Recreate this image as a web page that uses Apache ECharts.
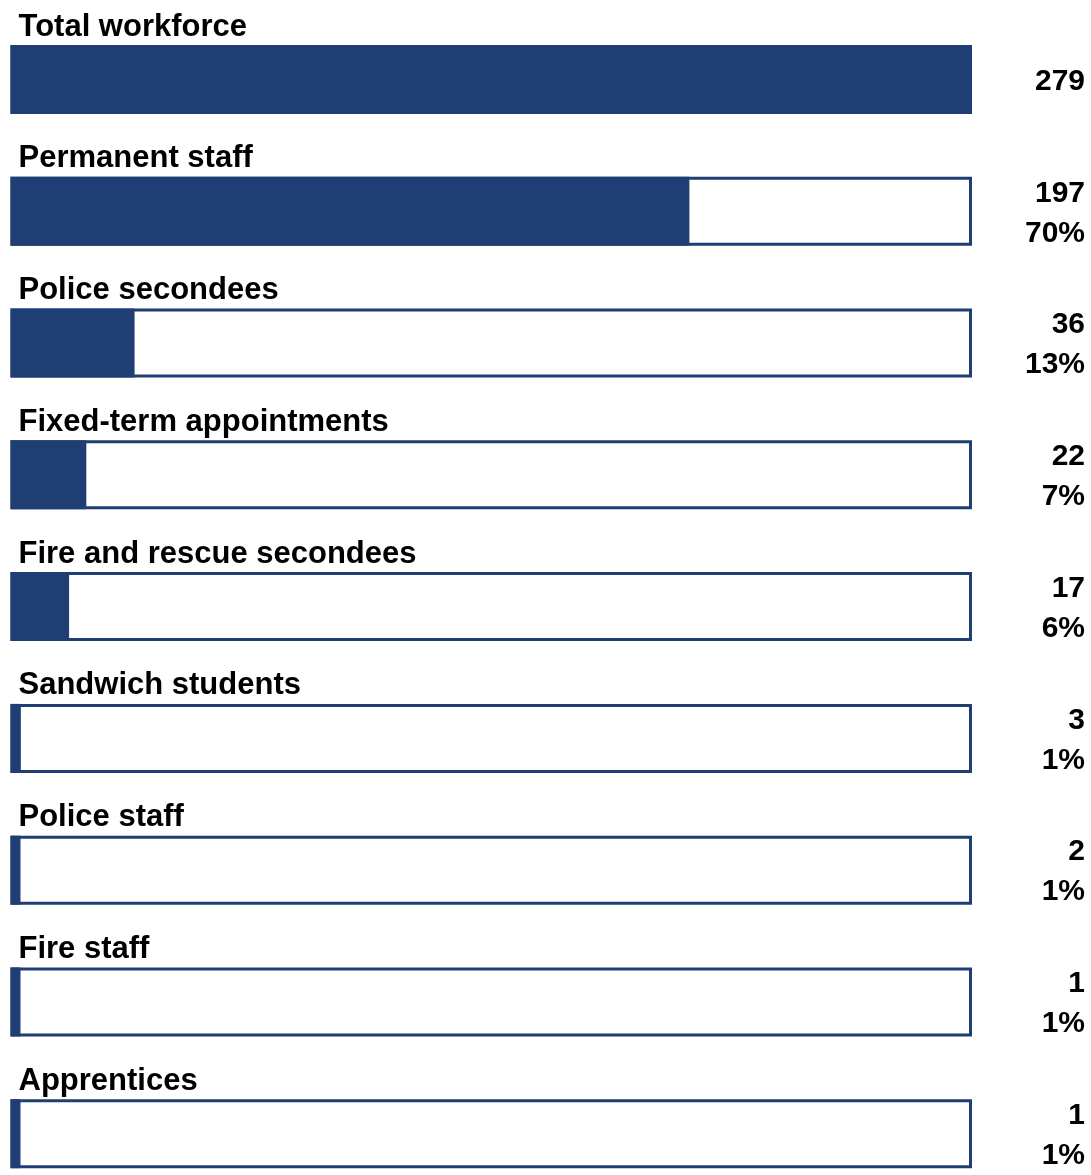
<!DOCTYPE html>
<html>
<head>
<meta charset="utf-8">
<title>Workforce composition</title>
<script src="https://cdn.jsdelivr.net/npm/echarts@6/dist/echarts.min.js"></script>
<style>
  html, body { margin: 0; padding: 0; background: #ffffff; }
  #chart { width: 1091px; height: 1175px; }
</style>
</head>
<body>
<div id="chart"></div>
<script>
// Workforce groups, head counts and their share of the total workforce
const categories = [
  'Total workforce',
  'Permanent staff',
  'Police secondees',
  'Fixed-term appointments',
  'Fire and rescue secondees',
  'Sandwich students',
  'Police staff',
  'Fire staff',
  'Apprentices'
];
const counts = [279, 197, 36, 22, 17, 3, 2, 1, 1];
const shares = [null, '70%', '13%', '7%', '6%', '1%', '1%', '1%', '1%'];
const total = counts[0];

const NAVY = '#1F3F74';
const FONT = 'Arial, "Liberation Sans", sans-serif';

const chart = echarts.init(document.getElementById('chart'), null, { renderer: 'canvas' });

const fullRow = categories.map(() => total);

chart.setOption({
  animation: false,
  backgroundColor: '#ffffff',
  grid: {
    left: 10.5, width: 961.5, top: 13.6, height: 1186,
    containLabel: false, outerBoundsMode: 'none'
  },
  xAxis: { type: 'value', min: 0, max: total, show: false },
  yAxis: { type: 'category', data: categories, inverse: true, show: false },
  series: [
    {
      // white track behind each bar, carrying the group name above it
      name: 'track',
      type: 'bar',
      data: fullRow,
      barWidth: 69,
      barGap: '-100%',
      silent: true,
      itemStyle: { color: '#ffffff' },
      label: {
        show: true,
        position: [8, -18],
        verticalAlign: 'middle',
        align: 'left',
        formatter: p => categories[p.dataIndex],
        color: '#000000',
        fontFamily: FONT,
        fontWeight: 'bold',
        fontSize: 31
      }
    },
    {
      // filled portion: head count of the group
      name: 'count',
      type: 'bar',
      data: counts,
      barWidth: 69,
      barGap: '-100%',
      barMinHeight: 10,
      itemStyle: { color: NAVY }
    },
    {
      // outline frame with count and share printed to the right
      name: 'frame',
      type: 'bar',
      data: fullRow,
      barWidth: 69,
      barGap: '-100%',
      silent: true,
      itemStyle: { color: 'rgba(0,0,0,0)', borderColor: NAVY, borderWidth: 3 },
      label: {
        show: true,
        position: ['100%', '50%'],
        offset: [113, 2],
        align: 'right',
        verticalAlign: 'middle',
        formatter: p => {
          const i = p.dataIndex;
          return shares[i] ? '{v|' + counts[i] + '}\n{v|' + shares[i] + '}' : '{v|' + counts[i] + '}';
        },
        rich: {
          v: {
            color: '#000000',
            fontFamily: FONT,
            fontWeight: 'bold',
            fontSize: 30,
            lineHeight: 40,
            align: 'right'
          }
        }
      }
    }
  ]
});
</script>
</body>
</html>
